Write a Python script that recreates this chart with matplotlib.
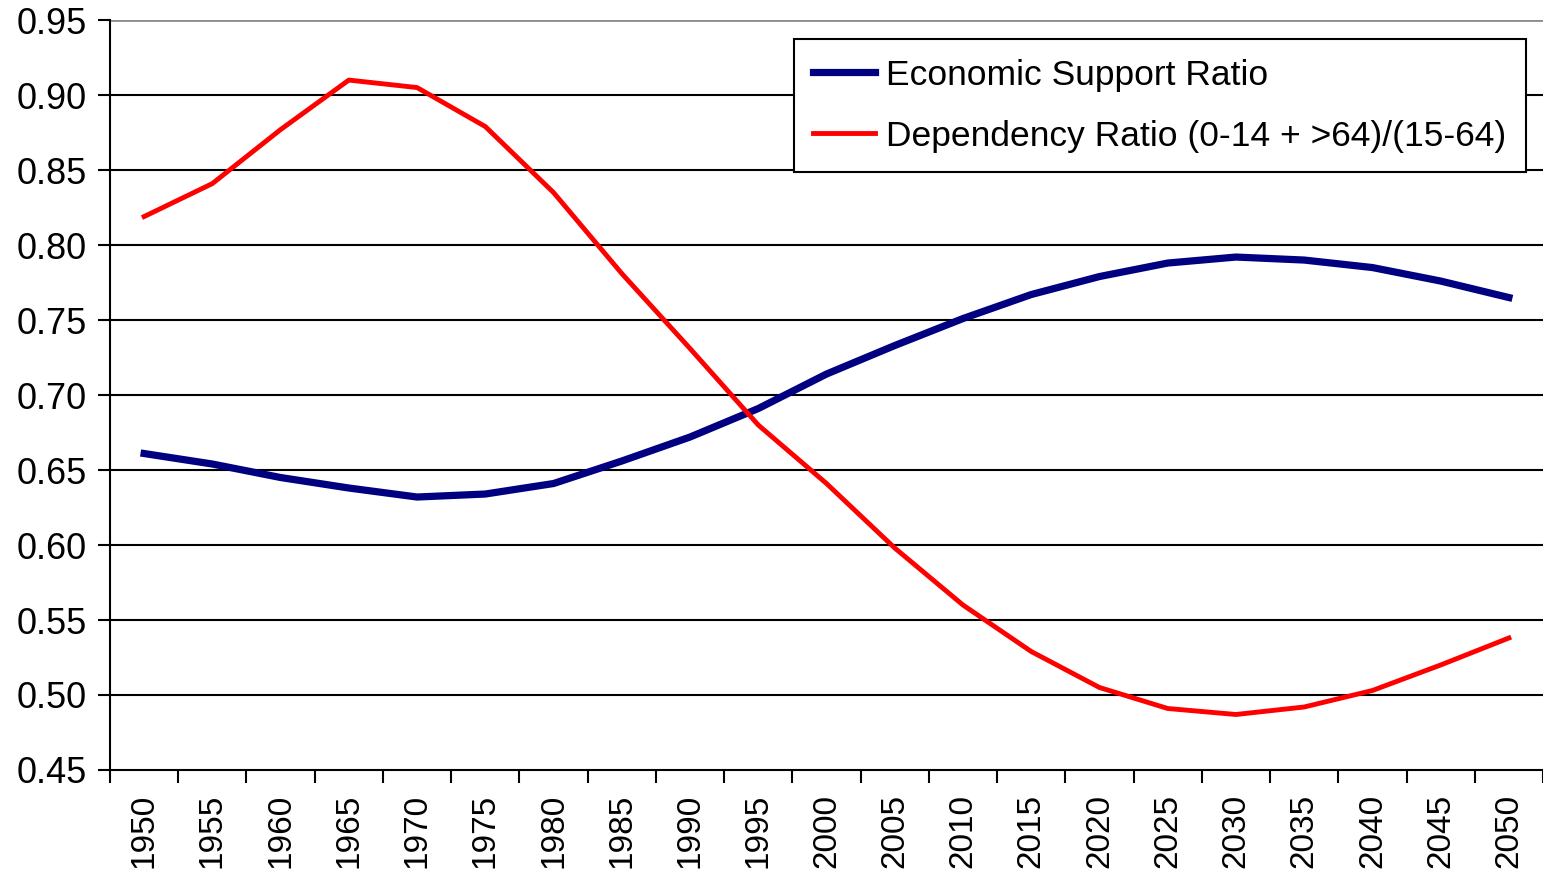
import numpy as np
import matplotlib.pyplot as plt

# Data
years = [str(y) for y in range(1950, 2051, 5)]
support_ratio = [0.661, 0.654, 0.645, 0.638, 0.632, 0.634, 0.641, 0.656, 0.672, 0.691,
                 0.714, 0.733, 0.751, 0.767, 0.779, 0.788, 0.792, 0.790, 0.785, 0.776, 0.765]
dependency_ratio = [0.819, 0.841, 0.877, 0.910, 0.905, 0.879, 0.835, 0.781, 0.731, 0.680,
                    0.641, 0.598, 0.560, 0.529, 0.505, 0.491, 0.487, 0.492, 0.503, 0.520, 0.538]
y_ticks = [0.45, 0.50, 0.55, 0.60, 0.65, 0.70, 0.75, 0.80, 0.85, 0.90, 0.95]

plt.rcParams['font.family'] = ['Liberation Sans', 'DejaVu Sans']

fig = plt.figure(figsize=(15.43, 8.73), dpi=100)
ax = fig.add_axes([0.0713, 0.118, 0.9287, 0.859])

x = np.arange(len(years))

# horizontal gridlines
for yv in y_ticks[1:-1]:
    ax.axhline(yv, color='black', lw=1.5, zorder=1)
ax.axhline(0.95, color='#8c8c8c', lw=2, zorder=1)

ax.plot(x, support_ratio, color='#000080', lw=5.2, label='Economic Support Ratio', zorder=3)
ax.plot(x, dependency_ratio, color='#ff0000', lw=3.5, label='Dependency Ratio (0-14 + >64)/(15-64)', zorder=3)

ax.set_xlim(-0.5, len(years) - 0.5)
ax.set_ylim(0.45, 0.95)

ax.set_yticks(y_ticks)
ax.set_yticklabels([f'{v:.2f}' for v in y_ticks], fontsize=26)
ax.set_xticks(x)
ax.set_xticklabels(years, rotation=90, fontsize=24)
ax.tick_params(axis='x', length=0, pad=17)
ax.set_xticks(np.arange(len(years) + 1) - 0.5, minor=True)
ax.tick_params(axis='x', which='minor', length=9, width=1.5, direction='out')
ax.tick_params(axis='y', length=9, width=1.5, direction='out', pad=8)

for side in ['top', 'right']:
    ax.spines[side].set_visible(False)
ax.spines['left'].set_linewidth(1.5)
ax.spines['bottom'].set_linewidth(1.5)

leg = ax.legend(loc='upper left', bbox_to_anchor=(0.4773, 0.9747), fontsize=25.5,
                frameon=True, fancybox=False, edgecolor='black', framealpha=1,
                handlelength=1.75, handletextpad=0.31, borderpad=0.55, labelspacing=0.8,
                borderaxespad=0)
leg.get_frame().set_linewidth(1.5)

fig.savefig('out.png', dpi=100)
